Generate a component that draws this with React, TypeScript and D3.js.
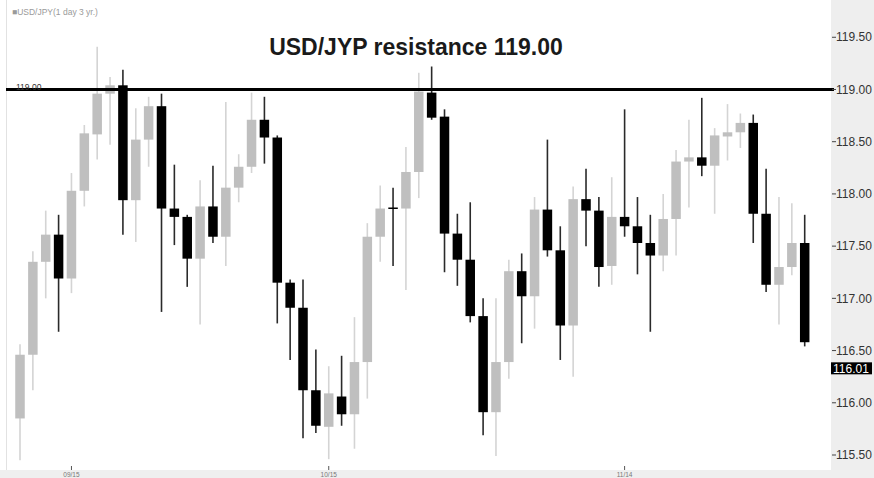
import { useRef, useEffect } from 'react';
import * as d3 from 'd3';

// daily candles
const opens = [
  115.85, 116.46, 117.35, 117.61, 117.19, 118.03, 118.57, 118.96, 119.04, 117.94,
  118.52, 118.84, 117.86, 117.78, 117.38, 117.88, 117.59, 118.06, 118.26, 118.71,
  118.54, 117.15, 116.91, 116.12, 115.77, 116.06, 115.89, 116.39, 117.59, 117.87,
  117.86, 118.21, 118.97, 118.74, 117.62, 117.37, 116.83, 115.91, 116.39, 117.26,
  117.02, 117.85, 117.46, 116.74, 117.95, 117.84, 117.31, 117.78, 117.69, 117.53,
  117.41, 117.76, 118.31, 118.35, 118.27, 118.55, 118.59, 118.68, 117.81, 117.13,
  117.30, 117.53,
];
const highs = [
  116.56, 117.45, 117.84, 117.80, 118.20, 118.66, 119.41, 119.12, 119.19, 118.82,
  118.93, 118.96, 118.28, 117.80, 118.13, 118.27, 118.88, 118.38, 118.97, 118.93,
  118.56, 117.18, 117.18, 116.51, 116.35, 116.45, 116.82, 117.72, 118.08, 118.06,
  118.45, 119.16, 119.22, 118.81, 117.81, 117.92, 117.00, 117.00, 117.37, 117.43,
  117.97, 118.52, 117.69, 118.07, 118.24, 117.97, 118.16, 118.81, 117.97, 117.80,
  118.00, 118.42, 118.71, 118.92, 118.63, 118.86, 118.77, 118.76, 118.24, 117.97,
  117.91, 117.80,
];
const lows = [
  115.45, 116.12, 117.00, 116.68, 117.05, 117.88, 118.33, 118.47, 117.61, 117.54,
  118.26, 116.87, 117.51, 117.11, 116.75, 117.53, 117.31, 117.92, 118.20, 118.29,
  116.76, 116.41, 115.66, 115.71, 115.46, 115.78, 115.56, 116.04, 117.35, 117.31,
  117.08, 117.96, 118.71, 117.25, 117.12, 116.77, 115.69, 115.49, 116.23, 116.57,
  116.71, 117.40, 116.41, 116.25, 117.50, 117.11, 117.13, 117.59, 117.23, 116.68,
  117.26, 117.41, 117.87, 118.17, 117.81, 118.32, 118.44, 117.53, 117.06, 116.75,
  117.22, 116.54,
];
const closes = [
  116.46, 117.35, 117.61, 117.19, 118.03, 118.58, 118.96, 119.04, 117.94, 118.52,
  118.84, 117.86, 117.78, 117.38, 117.88, 117.59, 118.06, 118.26, 118.71, 118.54,
  117.15, 116.91, 116.12, 115.78, 116.09, 115.89, 116.39, 117.59, 117.86, 117.86,
  118.21, 118.98, 118.73, 117.62, 117.37, 116.83, 115.91, 116.39, 117.26, 117.02,
  117.85, 117.46, 116.74, 117.95, 117.84, 117.30, 117.78, 117.69, 117.53, 117.41,
  117.76, 118.31, 118.35, 118.27, 118.56, 118.59, 118.68, 117.81, 117.13, 117.30,
  117.53, 116.58,
];
// doji candle at index 29 closes a hair under its open
const downFlags = closes.map((c, i) => c < opens[i] || i === 29);

const yTicks = [115.5, 116.0, 116.5, 117.0, 117.5, 118.0, 118.5, 119.0, 119.5];
const xTickIdx = [4, 24, 47];
const xTickLabels = ['09/15', '10/15', '11/14'];
const resistance = 119.0;
const lastPriceLabel = '116.01';
const lastPriceAt = 116.33;

const W = 874;
const H = 478;

export default function App() {
  const svgRef = useRef<SVGSVGElement>(null);

  useEffect(() => {
    if (!svgRef.current) return;
    document.body.style.margin = '0';
    const svg = d3.select(svgRef.current);
    svg.selectAll('*').remove();

    const x = d3.scaleLinear().domain([0, opens.length - 1]).range([20, 804.7]);
    const y = d3.scaleLinear().domain([115.5, 118.5]).range([455, 141.7]);
    const bw = 9.5;
    const font = 'Liberation Sans, Arial, sans-serif';

    svg.append('rect').attr('width', W).attr('height', H).attr('fill', '#fff');
    // right axis panel + bottom strip
    svg.append('rect').attr('x', 831).attr('y', 0).attr('width', W - 831).attr('height', H).attr('fill', '#eeeeee');
    svg.append('rect').attr('x', 0).attr('y', 470).attr('width', W).attr('height', H - 470).attr('fill', '#efefef');
    svg.append('line').attr('x1', 6.5).attr('x2', 6.5).attr('y1', 0).attr('y2', 470)
      .attr('stroke', '#e2e2e2').attr('stroke-width', 1);

    const candles = svg.append('g');
    opens.forEach((o, i) => {
      const down = downFlags[i];
      const cx = x(i);
      candles.append('line')
        .attr('x1', cx).attr('x2', cx)
        .attr('y1', y(highs[i])).attr('y2', y(lows[i]))
        .attr('stroke', down ? '#2a2a2a' : '#d4d4d4')
        .attr('stroke-width', 1.6);
      const top = y(Math.max(o, closes[i]));
      const bot = y(Math.min(o, closes[i]));
      candles.append('rect')
        .attr('x', cx - bw / 2)
        .attr('y', top)
        .attr('width', bw)
        .attr('height', Math.max(bot - top, 1.5))
        .attr('fill', down ? '#000' : '#bfbfbf');
    });

    // resistance line
    svg.append('line')
      .attr('x1', 6).attr('x2', 834)
      .attr('y1', y(resistance)).attr('y2', y(resistance))
      .attr('stroke', '#000').attr('stroke-width', 3);
    svg.append('text')
      .attr('x', 16).attr('y', y(resistance) + 1)
      .attr('font-family', font).attr('font-size', 8.5).attr('fill', '#333')
      .text('119.00');

    // right axis
    const ax = svg.append('g');
    yTicks.forEach(v => {
      ax.append('line').attr('x1', 832).attr('x2', 836)
        .attr('y1', y(v)).attr('y2', y(v)).attr('stroke', '#444').attr('stroke-width', 1);
      ax.append('text')
        .attr('x', 836).attr('y', y(v))
        .attr('dy', '0.35em')
        .attr('font-family', font).attr('font-size', 12).attr('fill', '#333')
        .text(d3.format('.2f')(v));
    });
    const ly = y(lastPriceAt);
    ax.append('rect').attr('x', 831).attr('y', ly - 6).attr('width', 41).attr('height', 12).attr('fill', '#000');
    ax.append('text')
      .attr('x', 833).attr('y', ly).attr('dy', '0.35em')
      .attr('font-family', font).attr('font-size', 12).attr('fill', '#fff')
      .text(lastPriceLabel);

    // bottom ticks (labels sit in the thin strip at the bottom edge)
    xTickIdx.forEach((idx, k) => {
      svg.append('line').attr('x1', x(idx)).attr('x2', x(idx))
        .attr('y1', 466).attr('y2', 470).attr('stroke', '#555');
      svg.append('text')
        .attr('x', x(idx)).attr('y', 477)
        .attr('text-anchor', 'middle')
        .attr('font-family', font).attr('font-size', 6.5).attr('fill', '#777')
        .text(xTickLabels[k]);
    });

    // titles
    svg.append('text')
      .attr('x', 12).attr('y', 15)
      .attr('font-family', font).attr('font-size', 8.5).attr('fill', '#9a9a9a')
      .text('■USD/JPY(1 day 3 yr.)');
    svg.append('text')
      .attr('x', 416).attr('y', 55)
      .attr('text-anchor', 'middle')
      .attr('font-family', font).attr('font-size', 23).attr('font-weight', 'bold').attr('fill', '#1a1a1a')
      .text('USD/JYP resistance 119.00');
  }, []);

  return <svg ref={svgRef} width={W} height={H} style={{ display: 'block' }} />;
}
